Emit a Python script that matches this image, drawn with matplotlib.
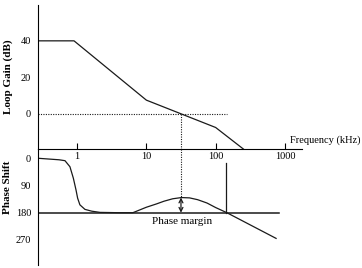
import matplotlib.pyplot as plt

# loop gain (asymptotic) - freq in kHz, gain in dB
gain_freq = [0.274, 0.905, 10, 100, 251]
gain_db = [40, 40, 7.5, -7.5, -19.3]

# phase shift in degrees
phase_freq = [0.274, 0.55, 0.67, 0.79, 0.885, 0.967, 1.02, 1.10, 1.30, 1.63, 2.15, 4.0,
              6.4, 10, 14, 18, 24, 32, 42, 55, 75, 100, 145, 745]
phase_deg = [0, 5, 8, 28, 66, 105, 132, 154, 169, 175, 179, 180,
             180, 162, 151, 142, 134, 130, 131, 137, 148, 163, 180, 265]

freq_ticks = [1, 10, 100, 1000]
gain_ticks = [0, 20, 40]
phase_ticks = [0, 90, 180, 270]

f_cross = 31.6      # gain crossover
f_180 = 143         # phase crossover
pm_phase = 130      # phase at gain crossover

plt.rcParams['font.family'] = ['Liberation Serif', 'DejaVu Serif']
lc = '#1a1a1a'

fig = plt.figure(figsize=(3.62, 2.68), dpi=100)
ax2 = fig.add_axes([0.105, 0.0112, 0.7285, 0.433])
ax1 = fig.add_axes([0.105, 0.444, 0.7285, 0.537])
ax1.patch.set_visible(False)
ax2.patch.set_visible(False)

xmin, xmax = 0.2735, 1746

####### gain plot
ax1.plot(gain_freq, gain_db, color=lc, lw=0.9)
ax1.plot([xmin, 145], [0, 0], color=lc, lw=0.8, ls=(0, (1, 1.2)))
ax1.plot([f_cross, f_cross], [0, -19.3], color=lc, lw=0.8, ls=(0, (1, 1.2)))
ax1.set_xscale('log')
ax1.set_xlim(xmin, xmax)
ax1.set_ylim(-19.3, 59.6)
ax1.spines['top'].set_visible(False)
ax1.spines['right'].set_visible(False)
ax1.set_xticks(freq_ticks)
ax1.set_xticklabels([str(t) for t in freq_ticks])
ax1.minorticks_off()
ax1.tick_params(axis='x', direction='in', length=4, width=0.8, pad=2.5, labelsize=7.5)
ax1.set_yticks(gain_ticks)
ax1.tick_params(axis='y', length=0, pad=5, labelsize=7.5)
ax1.text(1186, -14.4, 'Frequency (kHz)', fontsize=7.5, ha='left', va='center')

####### phase plot
ax2.plot(phase_freq, phase_deg, color=lc, lw=0.9)
ax2.plot([xmin, 822], [180, 180], color=lc, lw=1.1)
ax2.plot([f_180, f_180], [16.5, 180], color=lc, lw=0.9)
ax2.plot([f_cross, f_cross], [-30.8, pm_phase], color=lc, lw=0.8, ls=(0, (1, 1.2)))
ax2.annotate('', xy=(f_cross, pm_phase), xytext=(f_cross, 180),
             arrowprops=dict(arrowstyle='<->', color=lc, lw=0.9,
                             shrinkA=0, shrinkB=0, mutation_scale=7))
ax2.text(32.4, 209.8, 'Phase margin', fontsize=8, ha='center', va='center')
ax2.set_xscale('log')
ax2.set_xlim(xmin, xmax)
ax2.set_ylim(353, -30.8)
for s in ['top', 'right', 'bottom']:
    ax2.spines[s].set_visible(False)
ax2.set_xticks([])
ax2.minorticks_off()
ax2.set_yticks(phase_ticks)
ax2.tick_params(axis='y', length=0, pad=5, labelsize=7.5)

fig.text(8 / 362, 1 - 76.7 / 268, 'Loop Gain (dB)', rotation=90, ha='center', va='center',
         fontsize=8, fontweight='bold')
fig.text(8 / 362, 1 - 187 / 268, 'Phase Shift', rotation=90, ha='center', va='center',
         fontsize=8, fontweight='bold')

plt.savefig('out.png', dpi=100)
